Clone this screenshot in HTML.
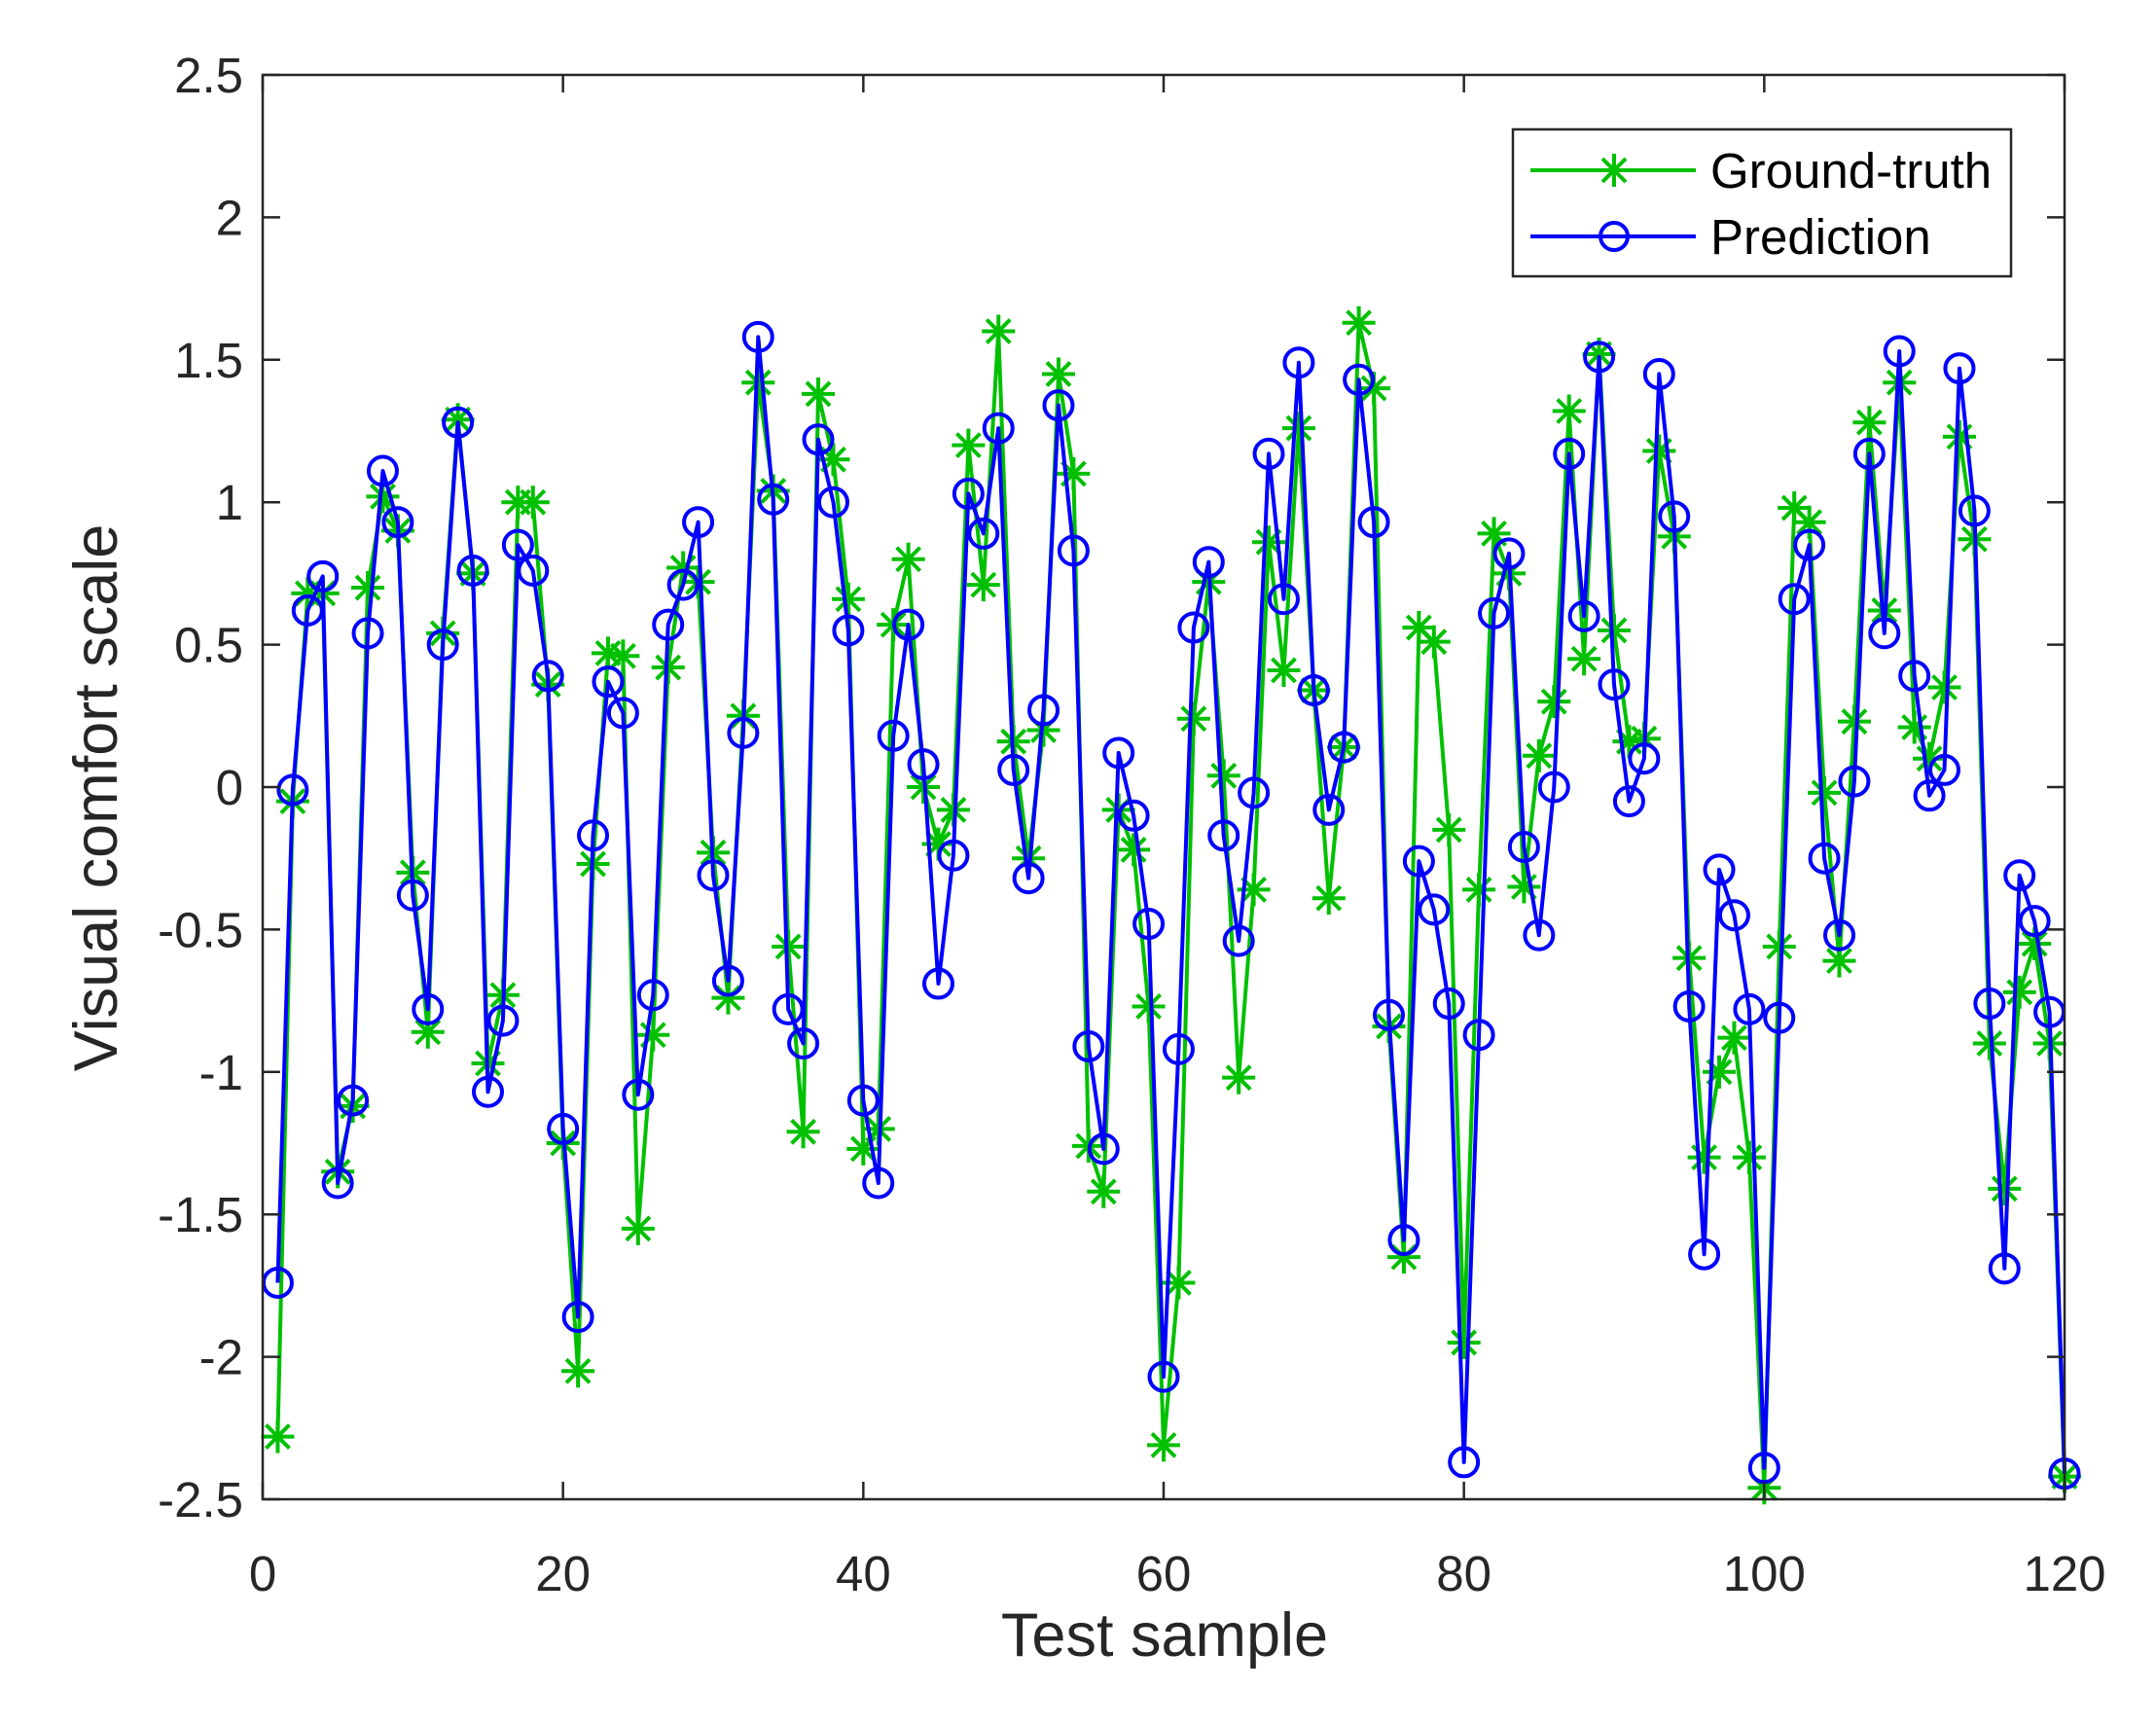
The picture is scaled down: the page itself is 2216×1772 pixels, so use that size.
<!DOCTYPE html>
<html><head><meta charset="utf-8"><style>
html,body{margin:0;padding:0;background:#fff;}
svg{display:block;font-family:"Liberation Sans",Arial,sans-serif;}
</style></head><body>
<svg id="s" width="2216" height="1772" viewBox="0 0 2216 1772" xmlns="http://www.w3.org/2000/svg">
<rect width="2216" height="1772" fill="#fff"/>
<g id="plot"></g>
<g id="axes"></g>
<rect x="1555" y="133" width="512" height="151" fill="#fff" stroke="#262626" stroke-width="2.5"/>
<line x1="1573" y1="175" x2="1743" y2="175" stroke="#00c000" stroke-width="4"/>
<g stroke="#00c000" stroke-width="4"><line x1="1642" y1="175" x2="1676" y2="175"/><line x1="1659" y1="158" x2="1659" y2="192"/><line x1="1647" y1="163" x2="1671" y2="187"/><line x1="1647" y1="187" x2="1671" y2="163"/></g>
<line x1="1573" y1="243" x2="1743" y2="243" stroke="#0000ff" stroke-width="4"/>
<circle cx="1659" cy="243" r="14" fill="none" stroke="#0000ff" stroke-width="4"/>
<text x="1758" y="193" font-size="51" fill="#000">Ground-truth</text>
<text x="1758" y="261" font-size="51" fill="#000">Prediction</text>
<text x="1197" y="1702" font-size="63" fill="#262626" text-anchor="middle">Test sample</text>
<text transform="translate(120,820) rotate(-90)" font-size="63" fill="#262626" text-anchor="middle">Visual comfort scale</text>
</svg>
<script>
var gt=[-2.28,-0.05,0.68,0.68,-1.35,-1.12,0.70,1.02,0.90,-0.30,-0.86,0.54,1.29,0.75,-0.97,-0.73,1.00,1.00,0.36,-1.25,-2.05,-0.27,0.47,0.46,-1.55,-0.87,0.42,0.77,0.72,-0.23,-0.74,0.25,1.42,1.04,-0.56,-1.21,1.38,1.15,0.66,-1.27,-1.20,0.57,0.80,0.00,-0.20,-0.08,1.20,0.71,1.60,0.16,-0.25,0.20,1.45,1.10,-1.26,-1.42,-0.08,-0.22,-0.77,-2.31,-1.74,0.24,0.72,0.04,-1.02,-0.36,0.86,0.41,1.26,0.34,-0.39,0.14,1.63,1.40,-0.84,-1.65,0.56,0.51,-0.15,-1.95,-0.36,0.89,0.75,-0.35,0.11,0.30,1.32,0.45,1.52,0.55,0.16,0.17,1.18,0.88,-0.60,-1.30,-1.00,-0.88,-1.30,-2.46,-0.56,0.98,0.93,-0.02,-0.61,0.23,1.28,0.62,1.42,0.21,0.10,0.35,1.23,0.87,-0.90,-1.41,-0.72,-0.55,-0.90,-2.42];
var pr=[-1.74,-0.01,0.62,0.74,-1.39,-1.10,0.54,1.11,0.93,-0.38,-0.78,0.50,1.28,0.76,-1.07,-0.82,0.85,0.76,0.39,-1.20,-1.86,-0.17,0.37,0.26,-1.08,-0.73,0.57,0.71,0.93,-0.31,-0.68,0.19,1.58,1.01,-0.78,-0.90,1.22,1.00,0.55,-1.10,-1.39,0.18,0.57,0.08,-0.69,-0.24,1.03,0.89,1.26,0.06,-0.32,0.27,1.34,0.83,-0.91,-1.27,0.12,-0.10,-0.48,-2.07,-0.92,0.56,0.79,-0.17,-0.54,-0.02,1.17,0.66,1.49,0.34,-0.08,0.14,1.43,0.93,-0.80,-1.59,-0.26,-0.43,-0.76,-2.37,-0.87,0.61,0.82,-0.21,-0.52,0.00,1.17,0.60,1.51,0.36,-0.05,0.10,1.45,0.95,-0.77,-1.64,-0.29,-0.45,-0.78,-2.39,-0.81,0.66,0.85,-0.25,-0.52,0.02,1.17,0.54,1.53,0.39,-0.03,0.06,1.47,0.97,-0.76,-1.69,-0.31,-0.47,-0.79,-2.41];
var L=270,R=2122,T=77,B=1541;
function X(i){return L+i*(R-L)/120;}
function Y(v){return T+(2.5-v)*(B-T)/5;}
var h='';
function line(d,c){var p=d.map(function(v,k){return X(k+1).toFixed(1)+','+Y(v).toFixed(1);}).join(' ');return '<polyline points="'+p+'" fill="none" stroke="'+c+'" stroke-width="4" stroke-linejoin="round"/>';}
h+=line(gt,'#00c000');
h+='<g stroke="#00c000" stroke-width="4">';
gt.forEach(function(v,k){var x=X(k+1),y=Y(v),a=17,b=12;h+='<line x1="'+(x-a)+'" y1="'+y+'" x2="'+(x+a)+'" y2="'+y+'"/><line x1="'+x+'" y1="'+(y-a)+'" x2="'+x+'" y2="'+(y+a)+'"/><line x1="'+(x-b)+'" y1="'+(y-b)+'" x2="'+(x+b)+'" y2="'+(y+b)+'"/><line x1="'+(x-b)+'" y1="'+(y+b)+'" x2="'+(x+b)+'" y2="'+(y-b)+'"/>';});
h+='</g>';
h+=line(pr,'#0000ff');
h+='<g fill="none" stroke="#0000ff" stroke-width="4">';
pr.forEach(function(v,k){h+='<circle cx="'+X(k+1)+'" cy="'+Y(v)+'" r="14.5"/>';});
h+='</g>';
document.getElementById('plot').innerHTML=h;
var a='<rect x="'+L+'" y="'+T+'" width="'+(R-L)+'" height="'+(B-T)+'" fill="none" stroke="#262626" stroke-width="2.5"/><g stroke="#262626" stroke-width="2.5">';
for(var i=0;i<=120;i+=20){var x=X(i);a+='<line x1="'+x+'" y1="'+B+'" x2="'+x+'" y2="'+(B-18)+'"/><line x1="'+x+'" y1="'+T+'" x2="'+x+'" y2="'+(T+18)+'"/>';}
for(var v=-2.5;v<=2.5;v+=0.5){var y=Y(v);a+='<line x1="'+L+'" y1="'+y+'" x2="'+(L+18)+'" y2="'+y+'"/><line x1="'+R+'" y1="'+y+'" x2="'+(R-18)+'" y2="'+y+'"/>';}
a+='</g><g font-size="51" fill="#262626">';
for(var i=0;i<=120;i+=20){a+='<text x="'+X(i)+'" y="1635" text-anchor="middle">'+i+'</text>';}
for(var v=-2.5;v<=2.51;v+=0.5){var t=Math.abs(v)<1e-9?'0':(+v.toFixed(1)).toString();a+='<text x="250" y="'+(Y(v)+18)+'" text-anchor="end">'+t+'</text>';}
a+='</g>';
document.getElementById('axes').innerHTML=a;
</script>
</body></html>
